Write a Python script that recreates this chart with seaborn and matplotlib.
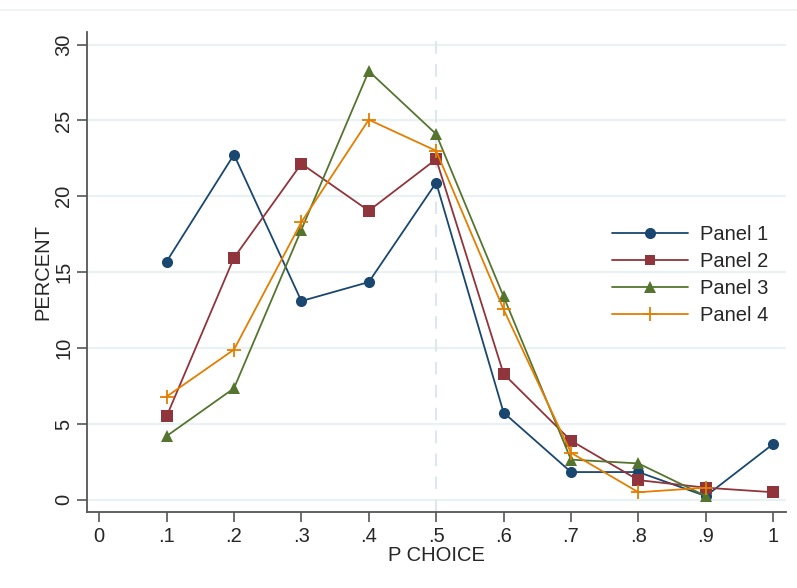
import numpy as np
import pandas as pd
import matplotlib
matplotlib.use("Agg")
import matplotlib.pyplot as plt
import seaborn as sns
from matplotlib.lines import Line2D

# valeurs
p_choice = [0.1, 0.2, 0.3, 0.4, 0.5, 0.6, 0.7, 0.8, 0.9, 1.0]
panel1 = [15.7, 22.75, 13.1, 14.35, 20.9, 5.75, 1.83, 1.83, 0.25, 3.68]
panel2 = [5.5, 15.95, 22.15, 19.05, 22.45, 8.3, 3.9, 1.3, 0.8, 0.5]
panel3 = [4.2, 7.35, 17.8, 28.25, 24.1, 13.4, 2.65, 2.4, 0.25, np.nan]
panel4 = [6.8, 9.9, 18.3, 25.05, 23.0, 12.55, 3.1, 0.5, 0.8, np.nan]
labels = ["Panel 1", "Panel 2", "Panel 3", "Panel 4"]
colors = ["#1a476f", "#90353b", "#55752f", "#e37e00"]
xtick_labels = ["0", ".1", ".2", ".3", ".4", ".5", ".6", ".7", ".8", ".9", "1"]

df = pd.DataFrame({"p": p_choice * 4,
                   "percent": panel1 + panel2 + panel3 + panel4,
                   "panel": np.repeat(labels, len(p_choice))})

sns.set_style("white")
plt.rcParams['font.family'] = ['Liberation Sans', 'DejaVu Sans']
fs = 14.5

fig = plt.figure(figsize=(7.97, 5.88), dpi=100)
ax = fig.add_axes([0.1092, 0.1293, 0.8770, 0.8168])

# grille et ligne verticale a .5
for v in [0, 5, 10, 15, 20, 25, 30]:
    ax.axhline(v, color="#eaf1f3", lw=1.6, zorder=0)
ax.axvline(0.5, color="#dce7ee", lw=1.5, ls=(0, (6, 5)), zorder=0)

sns.lineplot(data=df, x="p", y="percent", hue="panel", style="panel",
             palette=colors, markers=["o", "s", "^", "P"], dashes=False,
             lw=1.3, markersize=8, markeredgewidth=0, ax=ax, legend=False)
# marqueur "+" fin pour Panel 4
for ln in ax.lines:
    if ln.get_marker() == "P":
        ln.set_marker("+")
        ln.set_markersize(10)
        ln.set_markeredgewidth(1.3)
        ln.set_markeredgecolor(colors[3])
    elif ln.get_marker() == "^":
        ln.set_markersize(9)

ax.set_xlim(-0.018, 1.019)
ax.set_ylim(-0.8, 30.85)
ax.set_xticks(np.linspace(0, 1, 11))
ax.set_xticklabels(xtick_labels, fontsize=fs)
ax.set_yticks([0, 5, 10, 15, 20, 25, 30])
ax.set_yticklabels(["0", "5", "10", "15", "20", "25", "30"], fontsize=fs,
                   rotation=90, va="center")
ax.tick_params(axis="x", direction="out", length=7, width=1.2,
               color="#555555", bottom=True, pad=4)
ax.tick_params(axis="y", direction="out", length=7, width=1.2,
               color="#555555", left=True, pad=3)
ax.set_xlabel("P CHOICE", fontsize=fs, labelpad=0)
ax.set_ylabel("PERCENT", fontsize=fs, labelpad=1)
for s in ["top", "right"]:
    ax.spines[s].set_visible(False)
for s in ["left", "bottom"]:
    ax.spines[s].set_color("#555555")
    ax.spines[s].set_linewidth(1.3)

handles = [Line2D([], [], color=colors[0], lw=1.3, marker="o", markersize=8, markeredgewidth=0),
           Line2D([], [], color=colors[1], lw=1.3, marker="s", markersize=7, markeredgewidth=0),
           Line2D([], [], color=colors[2], lw=1.3, marker="^", markersize=9, markeredgewidth=0),
           Line2D([], [], color=colors[3], lw=1.3, marker="+", markersize=10, markeredgewidth=1.3)]
ax.legend(handles, labels, loc="upper left", bbox_to_anchor=(0.751, 0.598),
          frameon=False, fontsize=fs, handlelength=3.8, handletextpad=0.55,
          labelspacing=0.4, borderpad=0, borderaxespad=0)

fig.add_artist(Line2D([0, 1], [1 - 10 / 588, 1 - 10 / 588], color="#eef2f2", lw=1.2,
                      transform=fig.transFigure))

fig.savefig("out.png", dpi=100)
